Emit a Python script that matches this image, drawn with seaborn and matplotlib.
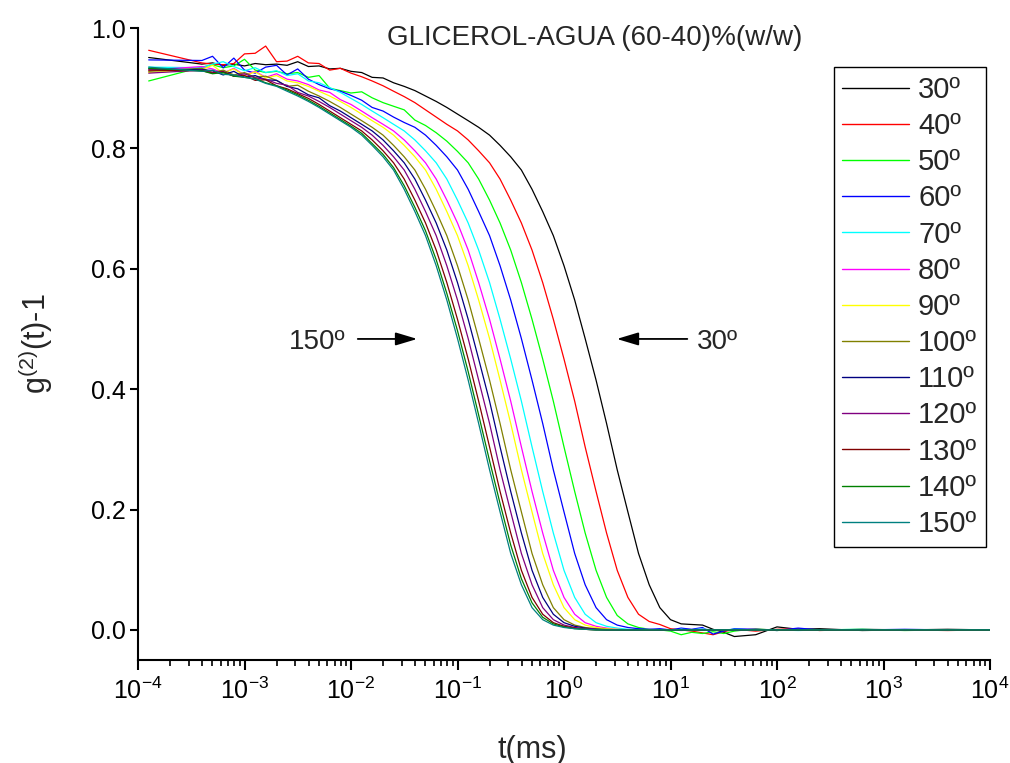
import matplotlib
matplotlib.use("Agg")
import matplotlib.pyplot as plt
import numpy as np
import pandas as pd
import seaborn as sns
from matplotlib.lines import Line2D
from matplotlib.ticker import FixedLocator, LogLocator, NullFormatter

# ---------------- data ----------------
T_MS = [1.26e-4, 3.98e-4, 5.01e-4, 6.31e-4, 7.94e-4, 1.0e-3, 1.26e-3, 1.58e-3, 2.0e-3, 2.51e-3,
        3.16e-3, 3.98e-3, 5.01e-3, 6.31e-3, 7.94e-3, 0.01, 0.0126, 0.0158, 0.02, 0.0251,
        0.0316, 0.0398, 0.0501, 0.0631, 0.0794, 0.1, 0.126, 0.158, 0.2, 0.251,
        0.316, 0.398, 0.501, 0.631, 0.794, 1.0, 1.26, 1.58, 2.0, 2.51,
        3.16, 3.98, 5.01, 6.31, 7.94, 10.0, 12.6, 15.8, 20.0, 25.1,
        31.6, 39.8, 63.1, 100.0, 158.0, 251.0, 631.0, 1585.0, 3981.0, 10000.0]

ANGLES = ["30º", "40º", "50º", "60º", "70º", "80º", "90º", "100º", "110º", "120º", "130º", "140º", "150º"]

g30 = [0.951, 0.940, 0.942, 0.938, 0.940, 0.937, 0.941, 0.939, 0.940, 0.938,
       0.944, 0.936, 0.937, 0.932, 0.933, 0.928, 0.926, 0.918, 0.917, 0.909,
       0.903, 0.896, 0.887, 0.878, 0.868, 0.857, 0.846, 0.835, 0.822, 0.805,
       0.786, 0.764, 0.732, 0.695, 0.655, 0.605, 0.548, 0.484, 0.415, 0.343,
       0.266, 0.196, 0.127, 0.075, 0.037, 0.017, 0.010, 0.009, 0.008, 0.001,
       -0.004, -0.011, -0.008, 0.005, 0.001, 0.002, -0.001, 0.000, 0.001, 0.000]
g40 = [0.963, 0.942, 0.940, 0.939, 0.941, 0.957, 0.958, 0.970, 0.944, 0.945,
       0.953, 0.942, 0.941, 0.930, 0.933, 0.925, 0.919, 0.912, 0.904, 0.895,
       0.886, 0.876, 0.864, 0.852, 0.840, 0.829, 0.814, 0.796, 0.776, 0.749,
       0.714, 0.676, 0.631, 0.577, 0.516, 0.450, 0.380, 0.304, 0.230, 0.161,
       0.099, 0.054, 0.026, 0.014, 0.009, 0.002, 0.000, -0.002, -0.005, -0.008,
       -0.003, 0.001, -0.002, 0.001, 0.002, -0.001, 0.001, 0.000, -0.001, 0.000]
g50 = [0.912, 0.935, 0.939, 0.934, 0.937, 0.948, 0.930, 0.926, 0.928, 0.924,
       0.926, 0.918, 0.921, 0.900, 0.896, 0.892, 0.894, 0.884, 0.876, 0.870,
       0.864, 0.847, 0.838, 0.826, 0.812, 0.795, 0.776, 0.749, 0.714, 0.676,
       0.631, 0.577, 0.516, 0.450, 0.380, 0.304, 0.230, 0.161, 0.099, 0.054,
       0.024, 0.010, 0.004, 0.001, 0.000, -0.002, -0.008, -0.004, -0.006, -0.003,
       -0.006, -0.002, 0.002, -0.001, 0.001, 0.000, 0.001, -0.001, 0.000, 0.000]
g60 = [0.947, 0.946, 0.953, 0.934, 0.950, 0.930, 0.925, 0.935, 0.938, 0.922,
       0.932, 0.915, 0.906, 0.899, 0.895, 0.888, 0.880, 0.868, 0.862, 0.852,
       0.843, 0.835, 0.822, 0.805, 0.786, 0.764, 0.732, 0.695, 0.655, 0.605,
       0.548, 0.484, 0.415, 0.343, 0.266, 0.196, 0.127, 0.075, 0.037, 0.017,
       0.008, 0.004, 0.002, 0.001, 0.002, 0.000, 0.003, 0.001, 0.004, -0.007,
       -0.002, 0.002, 0.001, -0.001, 0.003, 0.000, 0.000, 0.001, 0.000, 0.000]
g70 = [0.935, 0.934, 0.940, 0.944, 0.936, 0.929, 0.934, 0.926, 0.929, 0.921,
       0.924, 0.912, 0.909, 0.901, 0.893, 0.883, 0.873, 0.862, 0.851, 0.840,
       0.829, 0.814, 0.796, 0.776, 0.749, 0.714, 0.676, 0.631, 0.577, 0.516,
       0.450, 0.380, 0.304, 0.230, 0.161, 0.099, 0.054, 0.026, 0.012, 0.006,
       0.003, 0.001, 0.000, 0.001, 0.000, -0.001, 0.001, 0.000, 0.002, -0.001,
       0.000, 0.001, 0.000, 0.000, -0.001, 0.000, 0.001, 0.000, 0.000, 0.000]
g80 = [0.930, 0.936, 0.932, 0.925, 0.933, 0.922, 0.928, 0.918, 0.924, 0.915,
       0.912, 0.906, 0.897, 0.893, 0.881, 0.873, 0.862, 0.851, 0.840, 0.829,
       0.814, 0.796, 0.776, 0.749, 0.714, 0.676, 0.631, 0.577, 0.516, 0.450,
       0.380, 0.304, 0.230, 0.161, 0.099, 0.054, 0.026, 0.012, 0.006, 0.003,
       0.001, 0.000, 0.000, 0.001, 0.000, 0.000, -0.001, 0.000, 0.001, 0.000,
       0.000, 0.000, 0.001, 0.000, 0.000, 0.000, 0.000, 0.000, 0.000, 0.000]
g90 = [0.926, 0.931, 0.938, 0.925, 0.932, 0.921, 0.927, 0.917, 0.921, 0.912,
       0.909, 0.903, 0.895, 0.887, 0.878, 0.868, 0.857, 0.846, 0.835, 0.822,
       0.805, 0.786, 0.764, 0.732, 0.695, 0.655, 0.605, 0.548, 0.484, 0.415,
       0.343, 0.266, 0.196, 0.127, 0.075, 0.037, 0.017, 0.008, 0.004, 0.002,
       0.001, 0.000, 0.000, 0.000, 0.000, 0.000, 0.000, 0.000, 0.000, 0.000,
       0.000, 0.000, 0.000, 0.000, 0.000, 0.000, 0.000, 0.000, 0.000, 0.000]
g100 = [0.928, 0.933, 0.926, 0.930, 0.922, 0.926, 0.918, 0.920, 0.913, 0.903,
        0.905, 0.895, 0.887, 0.878, 0.868, 0.857, 0.846, 0.835, 0.822, 0.805,
        0.786, 0.764, 0.732, 0.695, 0.655, 0.605, 0.548, 0.484, 0.415, 0.343,
        0.266, 0.196, 0.127, 0.075, 0.037, 0.017, 0.008, 0.004, 0.002, 0.001,
        0.000, 0.000, 0.000, 0.000, 0.000, 0.000, 0.000, 0.000, 0.000, 0.000,
        0.000, 0.000, 0.000, 0.000, 0.000, 0.000, 0.000, 0.000, 0.000, 0.000]
g110 = [0.932, 0.931, 0.929, 0.922, 0.928, 0.918, 0.921, 0.914, 0.913, 0.903,
        0.899, 0.889, 0.884, 0.871, 0.862, 0.851, 0.840, 0.829, 0.814, 0.796,
        0.776, 0.749, 0.714, 0.676, 0.631, 0.577, 0.516, 0.450, 0.380, 0.304,
        0.230, 0.161, 0.099, 0.054, 0.026, 0.012, 0.006, 0.003, 0.001, 0.000,
        0.000, 0.000, 0.000, 0.000, 0.000, 0.000, 0.000, 0.000, 0.000, 0.000,
        0.000, 0.000, 0.000, 0.000, 0.000, 0.000, 0.000, 0.000, 0.000, 0.000]
g120 = [0.925, 0.930, 0.926, 0.928, 0.920, 0.924, 0.917, 0.915, 0.908, 0.905,
        0.893, 0.887, 0.878, 0.868, 0.857, 0.846, 0.835, 0.822, 0.805, 0.786,
        0.764, 0.732, 0.695, 0.655, 0.605, 0.548, 0.484, 0.415, 0.343, 0.266,
        0.196, 0.127, 0.075, 0.037, 0.017, 0.008, 0.004, 0.002, 0.001, 0.000,
        0.000, 0.000, 0.000, 0.000, 0.000, 0.000, 0.000, 0.000, 0.000, 0.000,
        0.000, 0.000, 0.000, 0.000, 0.000, 0.000, 0.000, 0.000, 0.000, 0.000]
g130 = [0.930, 0.929, 0.925, 0.927, 0.920, 0.921, 0.913, 0.914, 0.904, 0.899,
        0.891, 0.883, 0.873, 0.862, 0.851, 0.840, 0.829, 0.814, 0.796, 0.776,
        0.749, 0.714, 0.676, 0.631, 0.577, 0.516, 0.450, 0.380, 0.304, 0.230,
        0.161, 0.099, 0.054, 0.026, 0.012, 0.006, 0.003, 0.001, 0.000, 0.000,
        0.000, 0.000, 0.000, 0.000, 0.000, 0.000, 0.000, 0.000, 0.000, 0.000,
        0.000, 0.000, 0.000, 0.000, 0.000, 0.000, 0.000, 0.000, 0.000, 0.000]
g140 = [0.933, 0.929, 0.924, 0.926, 0.920, 0.918, 0.916, 0.909, 0.904, 0.897,
        0.889, 0.880, 0.870, 0.859, 0.848, 0.837, 0.825, 0.808, 0.790, 0.768,
        0.738, 0.702, 0.663, 0.615, 0.559, 0.497, 0.429, 0.357, 0.281, 0.210,
        0.141, 0.085, 0.045, 0.021, 0.010, 0.005, 0.002, 0.001, 0.000, 0.000,
        0.000, 0.000, 0.000, 0.000, 0.000, 0.000, 0.000, 0.000, 0.000, 0.000,
        0.000, 0.000, 0.000, 0.000, 0.000, 0.000, 0.000, 0.000, 0.000, 0.000]
g150 = [0.935, 0.928, 0.930, 0.923, 0.922, 0.918, 0.915, 0.908, 0.903, 0.895,
        0.887, 0.878, 0.868, 0.857, 0.846, 0.835, 0.822, 0.805, 0.786, 0.764,
        0.732, 0.695, 0.655, 0.605, 0.548, 0.484, 0.415, 0.343, 0.266, 0.196,
        0.127, 0.075, 0.037, 0.017, 0.008, 0.004, 0.002, 0.001, 0.000, 0.000,
        0.000, 0.000, 0.000, 0.000, 0.000, 0.000, 0.000, 0.000, 0.000, 0.000,
        0.000, 0.000, 0.000, 0.000, 0.000, 0.000, 0.000, 0.000, 0.000, 0.000]

SERIES = [g30, g40, g50, g60, g70, g80, g90, g100, g110, g120, g130, g140, g150]
COLORS = ["#000000", "#FF0000", "#00FF00", "#0000FF", "#00FFFF", "#FF00FF", "#FFFF00",
          "#808000", "#000080", "#800080", "#800000", "#008000", "#008080"]

X_TICKS = [1e-4, 1e-3, 1e-2, 1e-1, 1e0, 1e1, 1e2, 1e3, 1e4]
Y_TICKS = [0.0, 0.2, 0.4, 0.6, 0.8, 1.0]

# ---------------- style ----------------
sns.set_style("ticks")
plt.rcParams["font.family"] = ["Liberation Sans", "DejaVu Sans"]
plt.rcParams["mathtext.fontset"] = "custom"
plt.rcParams["mathtext.rm"] = "Liberation Sans"
plt.rcParams["mathtext.it"] = "Liberation Sans:italic"
plt.rcParams["mathtext.bf"] = "Liberation Sans:bold"
plt.rcParams["mathtext.default"] = "regular"
plt.rcParams["axes.unicode_minus"] = False

rows = []
for name, vals in zip(ANGLES, SERIES):
    for t, g in zip(T_MS, vals):
        rows.append((name, t, g))
df = pd.DataFrame(rows, columns=["angle", "t", "g"])

fig = plt.figure(figsize=(10.10, 7.63), dpi=100)
ax = fig.add_axes([138 / 1010, 103 / 763, 852 / 1010, 632 / 763])

sns.lineplot(data=df, x="t", y="g", hue="angle", hue_order=ANGLES,
             palette=COLORS, estimator=None, sort=False, linewidth=0.9,
             legend=False, ax=ax)

ax.set_xscale("log")
ax.set_xlim(1e-4, 1e4)
ax.set_ylim(-0.05, 1.0)

ax.xaxis.set_major_locator(FixedLocator(X_TICKS))
ax.xaxis.set_minor_locator(LogLocator(base=10, subs=np.arange(2, 10), numticks=100))
ax.xaxis.set_minor_formatter(NullFormatter())
ax.yaxis.set_major_locator(FixedLocator(Y_TICKS))
ax.yaxis.set_major_formatter(matplotlib.ticker.FormatStrFormatter("%.1f"))

for s in ["top", "right"]:
    ax.spines[s].set_visible(False)
for s in ["left", "bottom"]:
    ax.spines[s].set_linewidth(1.5)
    ax.spines[s].set_color("black")

ax.tick_params(axis="x", which="major", direction="out", length=7.5, width=1.5,
               labelsize=18, pad=5, colors="black")
ax.tick_params(axis="x", which="minor", direction="out", length=4.5, width=1.2, colors="black")
ax.tick_params(axis="y", which="major", direction="out", length=6, width=1.5,
               labelsize=18, pad=3, colors="black")

ax.set_xlabel("t(ms)", fontsize=22)
ax.set_ylabel("g$^{(2)}$(t)-1", fontsize=22)
ax.xaxis.set_label_coords(0.4624, -0.118)
ax.yaxis.set_label_coords(-0.097, 0.5)

ax.text(0.536, 0.984, "GLICEROL-AGUA (60-40)%(w/w)", transform=ax.transAxes,
        ha="center", va="center", fontsize=20)

# arrows
ax.annotate("", xy=(0.331, 0.508), xytext=(0.2547, 0.508), xycoords="axes fraction",
            arrowprops=dict(arrowstyle="-|>,head_length=0.6,head_width=0.18",
                            color="black", lw=1.3, mutation_scale=22))
ax.text(0.243, 0.503, "150º", transform=ax.transAxes, ha="right", va="center", fontsize=20)
ax.annotate("", xy=(0.5587, 0.508), xytext=(0.648, 0.508), xycoords="axes fraction",
            arrowprops=dict(arrowstyle="-|>,head_length=0.6,head_width=0.18",
                            color="black", lw=1.3, mutation_scale=22))
ax.text(0.656, 0.503, "30º", transform=ax.transAxes, ha="left", va="center", fontsize=20)

handles = [Line2D([0], [0], color=c, lw=1.0) for c in COLORS]
leg = ax.legend(handles, ANGLES, loc="upper right", bbox_to_anchor=(0.9953, 0.938),
                fontsize=21, frameon=True, fancybox=False, edgecolor="black",
                framealpha=1, handlelength=2.3, handletextpad=0.3, labelspacing=0.28,
                borderpad=0.3, borderaxespad=0)
leg.get_frame().set_linewidth(1.0)

fig.savefig("out.png", dpi=100)
